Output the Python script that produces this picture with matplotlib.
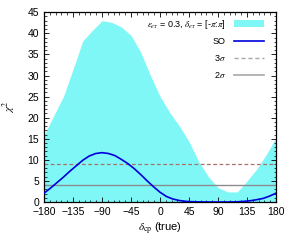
import matplotlib
matplotlib.use("Agg")
import matplotlib.pyplot as plt
from matplotlib.ticker import MultipleLocator
from matplotlib.lines import Line2D
from matplotlib.patches import Patch

plt.rcParams['font.family'] = ['Liberation Sans', 'DejaVu Sans']
plt.rcParams['mathtext.fontset'] = 'stix'

delta_band = [-180, -165, -150, -135, -120, -105, -90, -75, -60, -45, -30, -15, 0,
              15, 30, 45, 60, 75, 90, 105, 120, 135, 150, 165, 180]
band_upper = [15.8, 20.5, 25.0, 31.5, 38.2, 40.7, 43.0, 42.6, 41.5, 39.5, 35.5, 30.0, 25.0,
              21.2, 18.0, 14.3, 9.6, 6.0, 3.4, 2.4, 2.4, 5.0, 7.8, 11.3, 15.3]
band_lower = [0.0] * len(delta_band)

delta_so = [-180, -170, -160, -150, -140, -130, -120, -110, -100, -90, -80, -70, -60,
            -50, -40, -30, -20, -10, 0, 10, 20, 30, 40, 50, 60, 70, 80, 90, 100,
            110, 120, 130, 140, 150, 160, 170, 180]
so = [2.1, 3.3, 4.6, 5.9, 7.3, 8.6, 9.9, 10.9, 11.5, 11.7, 11.5, 11.0, 10.1,
      9.1, 7.9, 6.5, 5.0, 3.6, 2.3, 1.3, 0.7, 0.35, 0.15, 0.07, 0.03, 0.01, 0.0, 0.0, 0.0,
      0.01, 0.05, 0.15, 0.3, 0.55, 0.85, 1.4, 2.1]
sigma3 = 9.0
sigma2 = 4.0
xticks = [-180, -135, -90, -45, 0, 45, 90, 135, 180]
yticks = [0, 5, 10, 15, 20, 25, 30, 35, 40, 45]

fig = plt.figure(figsize=(2.94, 2.45), dpi=100)
ax = fig.add_axes([0.150, 0.1755, 0.789, 0.7745])

ax.fill_between(delta_band, band_lower, band_upper, color='#7ff7f7', lw=0, zorder=1)
ax.axhline(sigma3, color='#a8706a', lw=0.9, ls=(0, (3, 2)), zorder=2)
ax.axhline(sigma2, color='#8c8c8c', lw=1.0, zorder=2)
ax.plot(delta_so, so, color='#0000dd', lw=1.2, zorder=3)

ax.set_xlim(-180, 180)
ax.set_ylim(0, 45)
ax.set_xticks(xticks)
ax.set_yticks(yticks)
ax.xaxis.set_minor_locator(MultipleLocator(9))
ax.yaxis.set_minor_locator(MultipleLocator(1))
ax.tick_params(which='both', direction='in', top=True, right=True, labelsize=7.5, pad=3.5)
ax.tick_params(which='major', length=3.5, width=0.6)
ax.tick_params(which='minor', length=1.8, width=0.5)
for s in ax.spines.values():
    s.set_linewidth(0.9)

ax.set_xlabel(r'$\delta_{\rm cp}$ (true)', fontsize=8, labelpad=3)
ax.set_ylabel(r'$\chi^2$', fontsize=8, labelpad=7)

handles = [Patch(facecolor='#7ff7f7', edgecolor='none'),
           Line2D([], [], color='#0000dd', lw=1.2),
           Line2D([], [], color='#a8a8a8', lw=1.0, ls=(0, (3, 2))),
           Line2D([], [], color='#a8a8a8', lw=1.2)]
labels = [r'$\epsilon_{e\tau}$ = 0.3, $\delta_{e\tau}$ = [-$\pi$:$\pi$]', 'SO', r'3$\sigma$', r'2$\sigma$']
leg = ax.legend(handles, labels, loc='upper right', bbox_to_anchor=(0.95, 0.972),
                frameon=False, markerfirst=False, fontsize=6.5, handlelength=3.4,
                handletextpad=0.9, labelspacing=0.75, borderpad=0, borderaxespad=0,
                handleheight=0.8)

fig.savefig('out.png', dpi=100)
